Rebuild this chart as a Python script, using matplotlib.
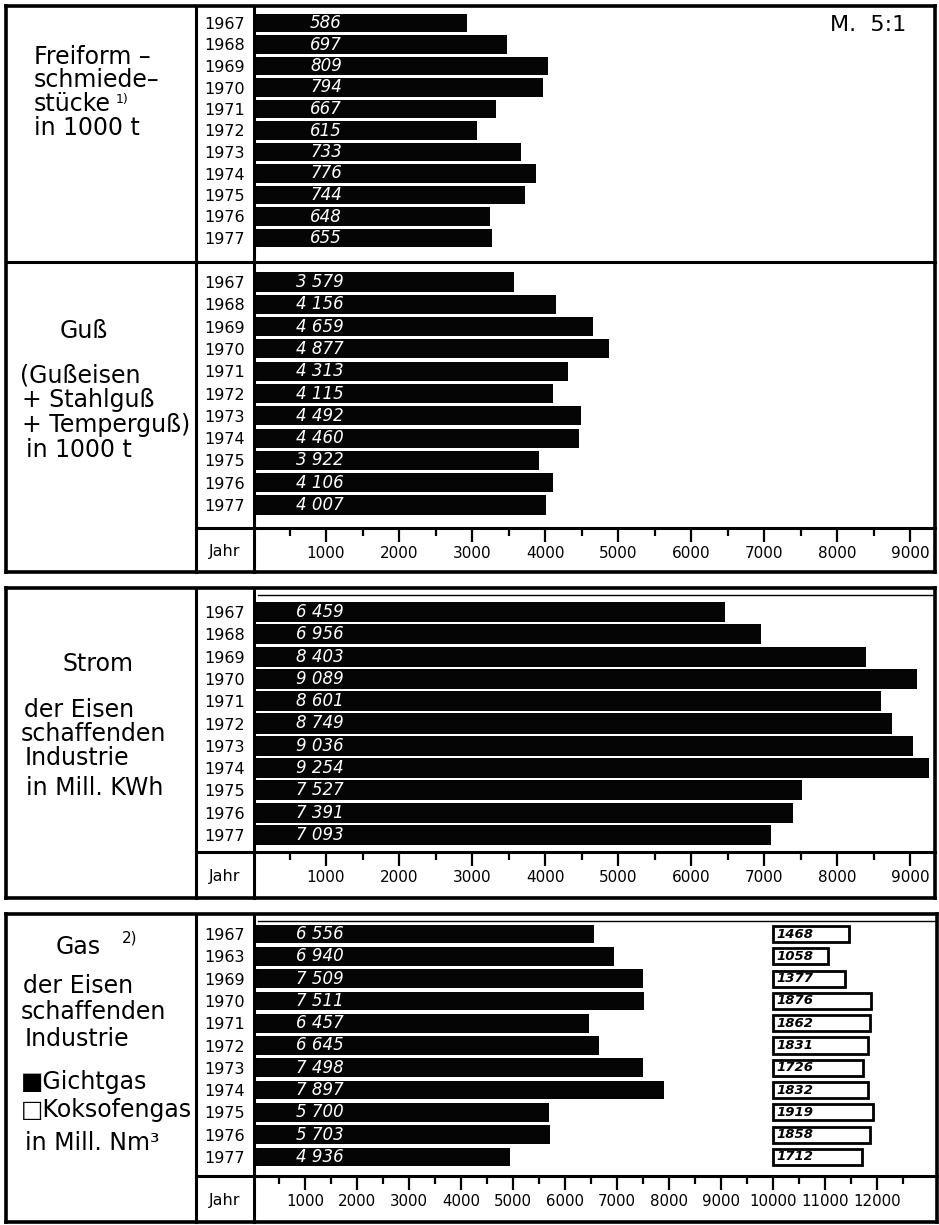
import matplotlib
matplotlib.use("Agg")
import matplotlib.pyplot as plt
from matplotlib.lines import Line2D
from matplotlib import transforms

# ---------------- data ----------------
years = ["1967", "1968", "1969", "1970", "1971", "1972", "1973", "1974", "1975", "1976", "1977"]
years_gas = ["1967", "1963", "1969", "1970", "1971", "1972", "1973", "1974", "1975", "1976", "1977"]
freiform = [586, 697, 809, 794, 667, 615, 733, 776, 744, 648, 655]
guss = [3579, 4156, 4659, 4877, 4313, 4115, 4492, 4460, 3922, 4106, 4007]
strom = [6459, 6956, 8403, 9089, 8601, 8749, 9036, 9254, 7527, 7391, 7093]
gichtgas = [6556, 6940, 7509, 7511, 6457, 6645, 7498, 7897, 5700, 5703, 4936]
koksofengas = [1468, 1058, 1377, 1876, 1862, 1831, 1726, 1832, 1919, 1858, 1712]
koks_start = 10000
ticks_main = list(range(1000, 10000, 1000))
ticks_gas = list(range(1000, 13000, 1000))

# ---------------- layout helpers ----------------
W, H = 939, 1225
plt.rcParams['font.family'] = ['DejaVu Sans']
fig = plt.figure(figsize=(W / 100, H / 100), dpi=100)
fig.patch.set_facecolor('white')

X0, XDIV, XYEAR, XR = 6, 196, 254, 935
XZERO = 253


def fx(x):
    return x / W


def fy(y):
    return 1 - y / H


def line(xs, ys, lw=2.0):
    fig.add_artist(Line2D([fx(x) for x in xs], [fy(y) for y in ys],
                          transform=fig.transFigure, color='black', lw=lw,
                          solid_capstyle='projecting'))


def box(x0, y0, x1, y1, lw=2.6):
    line([x0, x1], [y0, y0], lw)
    line([x0, x1], [y1, y1], lw)
    line([x0, x0], [y0, y1], lw)
    line([x1, x1], [y0, y1], lw)


def make_axes(yt, yb, c0, s, xmax):
    ax = fig.add_axes([fx(XZERO), fy(yb), (XR - XZERO) / W, (yb - yt) / H])
    ax.set_xlim(0, xmax)
    ax.set_ylim((yb - c0) / s, (yt - c0) / s)
    for sp in ax.spines.values():
        sp.set_visible(False)
    ax.patch.set_alpha(0)
    return ax


def fmt(v):
    return f"{v:,}".replace(",", " ")


def year_labels(ax, labels):
    ax.set_yticks(range(len(labels)))
    ax.set_yticklabels(labels, fontsize=11.5)
    ax.tick_params(axis='y', length=0, pad=6)


def value_labels(ax, vals, xfrac, size=12):
    tr = transforms.blended_transform_factory(ax.transAxes, ax.transData)
    for i, v in enumerate(vals):
        ax.text(xfrac, i, fmt(v), transform=tr, color='white', fontsize=size,
                style='italic', va='center', ha='left')


def x_axis(ax, majors, minor_max, size=11):
    ax.set_xticks(majors)
    ax.set_xticklabels([str(t) for t in majors])
    ax.set_xticks(list(range(500, minor_max + 1, 1000)), minor=True)
    ax.tick_params(axis='x', which='major', direction='out', length=10, width=1.6,
                   pad=3, labelsize=size)
    ax.tick_params(axis='x', which='minor', direction='out', length=6, width=1.6)


BAR = '#050505'

# ---------------- panel 1: Freiform ----------------
ax1 = make_axes(8, 262, 23, 21.5, 9342 / 5)
ax1.barh(range(11), freiform, height=0.86, color=BAR)
year_labels(ax1, years)
ax1.set_xticks([])
value_labels(ax1, freiform, (310 - XZERO) / (XR - XZERO))

# ---------------- panel 2: Guss ----------------
ax2 = make_axes(262, 528, 282, 22.3, 9342)
ax2.barh(range(11), guss, height=0.86, color=BAR)
year_labels(ax2, years)
x_axis(ax2, ticks_main, 8500)
value_labels(ax2, guss, (296 - XZERO) / (XR - XZERO))

# ---------------- panel 3: Strom ----------------
ax3 = make_axes(588, 852, 612, 22.3, 9342)
ax3.barh(range(11), strom, height=0.9, color=BAR)
year_labels(ax3, years)
x_axis(ax3, ticks_main, 8500)
value_labels(ax3, strom, (296 - XZERO) / (XR - XZERO))

# ---------------- panel 4: Gas ----------------
ax4 = make_axes(914, 1176, 934, 22.3, 13115)
ax4.barh(range(11), gichtgas, height=0.84, color=BAR)
ax4.barh(range(11), koksofengas, left=koks_start, height=0.72, color='white',
         edgecolor='black', linewidth=2.0)
year_labels(ax4, years_gas)
x_axis(ax4, ticks_gas, 12500, size=10.8)
value_labels(ax4, gichtgas, (296 - XZERO) / (XR - XZERO))
for i, v in enumerate(koksofengas):
    ax4.text(koks_start + 70, i, str(v), color='black', fontsize=9.5,
             style='italic', weight='bold', va='center', ha='left')

# ---------------- borders ----------------
box(X0, 6, XR, 572)
line([X0, XR], [262, 262], 2.2)
line([XDIV, XDIV], [6, 572], 2.2)
line([XYEAR, XYEAR], [6, 572], 2.2)
line([XDIV, XR], [528, 528], 2.2)

box(X0, 588, XR, 898)
line([XDIV, XDIV], [588, 898], 2.2)
line([XYEAR, XYEAR], [588, 898], 2.2)
line([XDIV, XR], [852, 852], 2.2)
line([XYEAR + 4, XR], [595, 595], 1.0)

box(X0, 914, 937, 1222)
line([XDIV, XDIV], [914, 1222], 2.2)
line([XYEAR, XYEAR], [914, 1222], 2.2)
line([XDIV, 937], [1176, 1176], 2.2)
line([XYEAR + 4, 937], [921, 921], 1.0)

# "Jahr" labels
for yj in (551, 876, 1200):
    fig.text(fx(225), fy(yj), "Jahr", fontsize=11.5, ha='center', va='center')

# ---------------- left column texts ----------------
TS = 17
def lt(x, y, s, ha='left', size=TS):
    fig.text(fx(x), fy(y), s, fontsize=size, ha=ha, va='center')

lt(34, 57, "Freiform –")
lt(34, 80, "schmiede–")
lt(34, 104, "stücke")
lt(116, 100, "1)", size=9)
lt(34, 128, "in 1000 t")

lt(84, 331, "Guß", ha='center')
lt(20, 375, "(Gußeisen")
lt(22, 400, "+ Stahlguß")
lt(22, 425, "+ Temperguß)")
lt(26, 450, "in 1000 t")

lt(98, 664, "Strom", ha='center')
lt(24, 710, "der Eisen")
lt(21, 734, "schaffenden")
lt(25, 758, "Industrie")
lt(26, 788, "in Mill. KWh")

lt(56, 947, "Gas")
lt(122, 938, "2)", size=11)
lt(23, 986, "der Eisen")
lt(21, 1012, "schaffenden")
lt(25, 1039, "Industrie")
lt(21, 1082, "■Gichtgas")
lt(21, 1110, "□Koksofengas")
lt(25, 1143, "in Mill. Nm³")

# scale note
fig.text(fx(868), fy(25), "M.  5:1", fontsize=16, ha='center', va='center')

fig.savefig("out.png", dpi=100, facecolor='white')
